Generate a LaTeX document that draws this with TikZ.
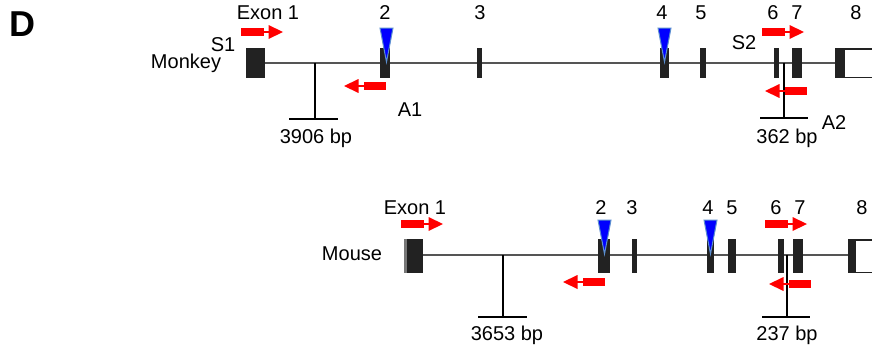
\documentclass[tikz,border=0pt]{standalone}
\usepackage{fontspec}
\setmainfont{Liberation Sans}
\definecolor{exonblk}{HTML}{222222}
\definecolor{intron}{HTML}{555555}
\definecolor{triedge}{HTML}{5B8FD0}
\tikzset{
  lbl/.style={inner sep=0pt, font=\fontsize{20}{23}\selectfont},
  exon/.style={fill=exonblk, draw=exonblk, line width=0.5pt},
  intronline/.style={draw=intron, line width=2pt},
  tick/.style={draw=black, line width=1.6pt},
  tri/.style={fill=blue, draw=triedge, line width=1pt},
  fwdprimer/.pic={
    \fill[red] (0,-4) rectangle (22.5,4);
    \draw[red, line width=2pt] (22,0) -- (28,0);
    \fill[red] (27.5,-7) -- (42,0) -- (27.5,7) -- cycle;
  },
  revprimer/.pic={
    \fill[red] (0,-4) rectangle (-22.5,4);
    \draw[red, line width=2pt] (-22,0) -- (-28,0);
    \fill[red] (-27.5,-7) -- (-42,0) -- (-27.5,7) -- cycle;
  }
}
\begin{document}
\begin{tikzpicture}[x=1pt, y=-1pt]
\useasboundingbox (0,0) rectangle (872,348);
\begin{scope}
\clip (0,0) rectangle (872,348);
% ---------- Monkey ----------
\draw[intronline] (265,62.5) -- (835,62.5);
\fill[exonblk] (246,48) rectangle (265,78);
\fill[exonblk] (380,48) rectangle (390,78);
\fill[exonblk] (477,48) rectangle (482,78);
\fill[exonblk] (660,48) rectangle (669,78);
\fill[exonblk] (700,48) rectangle (706,78);
\fill[exonblk] (774,48) rectangle (779,78);
\fill[exonblk] (792,48) rectangle (802,78);
\fill[exonblk] (835,48) rectangle (845,78);
\draw[exonblk, line width=1.5pt] (845,48.75) -- (880,48.75);
\draw[exonblk, line width=1.5pt] (845,77.25) -- (880,77.25);
\draw[tri] (380,28) -- (393,28) -- (386.5,62) -- cycle;
\draw[tri] (658,28) -- (671,28) -- (664.5,62) -- cycle;
\draw[tick] (315,62.5) -- (315,119);
\draw[tick] (289,119) -- (338,119);
\draw[tick] (784,62.5) -- (784,118);
\draw[tick] (760,118) -- (808,118);
\pic at (241,32) {fwdprimer};
\pic at (762,32) {fwdprimer};
\pic at (386,86) {revprimer};
\pic at (807,91) {revprimer};
% ---------- Mouse ----------
\draw[intronline] (423,255) -- (848,255);
\fill[intron!80] (404,239) rectangle (408,273);
\fill[exonblk] (407,239) rectangle (423,273);
\fill[exonblk] (598,239) rectangle (610,273);
\fill[exonblk] (632,239) rectangle (637,273);
\fill[exonblk] (707,239) rectangle (714,273);
\fill[exonblk] (728,239) rectangle (736,273);
\fill[exonblk] (778,239) rectangle (784,273);
\fill[exonblk] (793,239) rectangle (803,273);
\fill[exonblk] (848,239) rectangle (856,273);
\draw[exonblk, line width=1.5pt] (856,239.75) -- (880,239.75);
\draw[exonblk, line width=1.5pt] (856,272.25) -- (880,272.25);
\draw[tri] (598,220) -- (611,220) -- (604.5,254) -- cycle;
\draw[tri] (704,220) -- (717,220) -- (710.5,254) -- cycle;
\draw[tick] (503,255) -- (503,317);
\draw[tick] (478,317) -- (527,317);
\draw[tick] (787,255) -- (787,317);
\draw[tick] (762,317) -- (810,317);
\pic at (401,224) {fwdprimer};
\pic at (765,224) {fwdprimer};
\pic at (605,282) {revprimer};
\pic at (811,284) {revprimer};
\end{scope}
% ---------- Labels ----------
\node[inner sep=0pt, font=\fontsize{36}{40}\selectfont\bfseries] (D) at (22,24) {D};
\node[lbl] (mex1) at (268,13) {Exon 1};
\node[lbl] (m2) at (385,13) {2};
\node[lbl] (m3) at (480,13) {3};
\node[lbl] (m4) at (662,13) {4};
\node[lbl] (m5) at (701,13) {5};
\node[lbl] (m6) at (773,13) {6};
\node[lbl] (m7) at (797,13) {7};
\node[lbl] (m8) at (856,13) {8};
\node[lbl] (s1) at (223,45) {S1};
\node[lbl] (s2) at (744,43) {S2};
\node[lbl] (a1) at (410,110) {A1};
\node[lbl] (a2) at (834,123) {A2};
\node[lbl] (monkey) at (186,63) {Monkey};
\node[lbl] (bp1) at (316,138) {3906 bp};
\node[lbl] (bp2) at (787,138) {362 bp};
\node[lbl] (uex1) at (415,208) {Exon 1};
\node[lbl] (u2) at (601,208) {2};
\node[lbl] (u3) at (632,208) {3};
\node[lbl] (u4) at (708,208) {4};
\node[lbl] (u5) at (732,208) {5};
\node[lbl] (u6) at (776,208) {6};
\node[lbl] (u7) at (800,208) {7};
\node[lbl] (u8) at (862,208) {8};
\node[lbl] (mouse) at (352,254) {Mouse};
\node[lbl] (bp3) at (507,335) {3653 bp};
\node[lbl] (bp4) at (787,335) {237 bp};
\end{tikzpicture}
\end{document}
